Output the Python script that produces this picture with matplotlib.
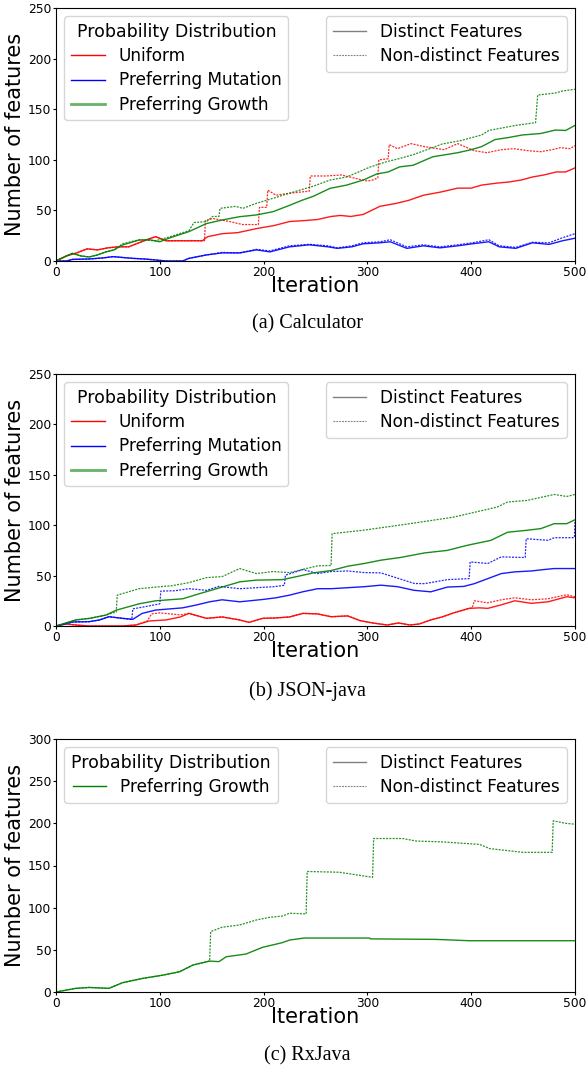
import matplotlib
matplotlib.use("Agg")
import matplotlib.pyplot as plt
from matplotlib.lines import Line2D

# ---------------- data ----------------
iter_ticks = [0, 100, 200, 300, 400, 500]
yticks_ab = [0, 50, 100, 150, 200, 250]
yticks_c = [0, 50, 100, 150, 200, 250, 300]

captions = ["(a) Calculator", "(b) JSON-java", "(c) RxJava"]
dist_labels = ["Uniform", "Preferring Mutation", "Preferring Growth"]
kind_labels = ["Distinct Features", "Non-distinct Features"]

# (a) Calculator
calc_uni_d_x = [0, 10, 20, 30, 40, 50, 60, 70, 80, 90, 96, 106, 120, 141, 146, 160, 175, 193, 210, 225, 240, 252,
                265, 274, 284, 296, 302, 312, 328, 340, 354, 370, 387, 400, 410, 425, 436, 448, 459, 470, 482, 491, 500]
calc_uni_d_y = [0, 5, 8, 12, 11, 13, 14, 14, 18, 22, 24, 20, 20, 20, 24, 27, 28, 32, 35, 39, 40, 41,
                44, 45, 44, 46, 49, 54, 57, 60, 65, 68, 72, 72, 75, 77, 78, 80, 83, 85, 88, 88, 92]
calc_uni_nd_x = [0, 10, 20, 30, 40, 50, 60, 70, 80, 90, 96, 106, 120, 143, 144, 151, 167, 180, 195, 196, 203, 204,
                 212, 225, 244, 245, 260, 275, 291, 300, 305, 310, 311, 320, 321, 329, 342, 355, 374, 387, 403, 415,
                 429, 441, 455, 467, 478, 486, 495, 500]
calc_uni_nd_y = [0, 5, 8, 12, 11, 13, 14, 14, 18, 22, 24, 20, 20, 20, 40, 42, 39, 36, 36, 53, 53, 70,
                 65, 67, 69, 84, 84, 85, 81, 79, 80, 82, 100, 101, 115, 111, 116, 113, 110, 116, 109, 107,
                 110, 111, 109, 108, 110, 112, 111, 114]
calc_mut_d_x = [0, 10, 16, 32, 45, 55, 74, 85, 96, 106, 122, 128, 145, 160, 177, 193, 206, 225, 244, 262, 271, 285,
                296, 312, 322, 338, 354, 370, 387, 401, 417, 427, 443, 459, 475, 488, 500]
calc_mut_d_y = [0, 0, 1.6, 2, 3, 4.3, 2.6, 2, 1, 0, 0, 2.6, 6, 8, 8, 11, 9, 14, 16, 14, 12.5, 14,
                17, 18, 19, 12.5, 15, 13, 15, 17, 19, 14, 12.5, 18, 16.4, 20, 22.5]
calc_mut_nd_x = calc_mut_d_x
calc_mut_nd_y = [0, 0, 1.6, 2, 3, 4.3, 2.6, 2, 1, 0, 0, 2.6, 6, 8.5, 8, 11.5, 10, 15, 16.5, 15, 13, 15,
                 18, 19, 21, 14, 16, 14, 16, 18, 21, 15, 13.5, 18.5, 18, 23, 27]
calc_grow_d_x = [0, 8, 16, 24, 32, 40, 48, 56, 64, 80, 90, 100, 110, 128, 145, 160, 177, 193, 209, 225, 237, 248,
                 264, 280, 296, 309, 320, 331, 344, 363, 375, 387, 400, 410, 423, 436, 449, 467, 481, 491, 500]
calc_grow_d_y = [0, 4, 7.6, 5, 4, 6, 9, 11, 15.8, 20.7, 21, 19, 23, 29, 37, 40.5, 43.8, 45.5, 48.7, 55, 60, 64,
                 71.8, 75, 80, 86, 88, 93, 94.6, 103, 105, 107, 110, 113, 120, 122, 124.5, 126, 129.4, 129, 134]
calc_grow_nd_x = [0, 8, 16, 24, 32, 40, 48, 56, 64, 80, 96, 110, 128, 133, 145, 151, 157, 158, 173, 180, 193, 206,
                  225, 248, 264, 280, 302, 318, 330, 344, 360, 372, 390, 410, 417, 443, 462, 464, 481, 488, 500]
calc_grow_nd_y = [0, 4, 7.6, 5, 4, 6, 9, 11, 17, 21, 20, 24, 30, 38, 39, 44, 44, 52, 54, 52, 57, 61,
                  67, 74, 80, 83, 92.6, 98, 101, 105, 111, 115.6, 119, 124.5, 129, 134, 136.7, 164, 166, 168, 169.7]

# (b) JSON-java
json_uni_d_x = [0, 10, 19, 32, 50, 64, 77, 90, 106, 120, 128, 145, 160, 177, 186, 199, 212, 225, 238, 252, 265, 281,
                293, 305, 319, 330, 341, 350, 361, 372, 383, 398, 408, 416, 429, 442, 458, 474, 492, 500]
json_uni_d_y = [0, 2, 1, 0, 0, 0, 1, 5, 6, 9, 12.5, 7.6, 9, 6, 3.6, 7.6, 8, 9, 12.5, 12, 9.2, 10,
                5.3, 3, 1, 3, 1, 2, 6, 9, 13, 17.5, 18, 17.5, 21, 25, 22.5, 24, 29, 28]
json_uni_nd_x = [0, 10, 19, 32, 50, 64, 77, 88, 92, 100, 110, 120, 128, 145, 160, 177, 186, 199, 212, 225, 238, 252,
                 265, 281, 293, 305, 319, 330, 341, 350, 361, 372, 383, 398, 401, 403, 416, 429, 442, 458, 474, 492, 500]
json_uni_nd_y = [0, 2, 1, 0, 0, 0, 1, 5, 12, 13, 12, 11, 12.5, 7.6, 9, 6, 3.6, 7.6, 8, 9, 12.5, 12,
                 9.2, 10, 5.3, 3, 1, 3, 1, 2, 6, 9, 13, 17.5, 18, 25, 23, 26, 28, 26, 27, 31, 29]
json_mut_d_x = [0, 16, 32, 42, 51, 64, 74, 83, 96, 110, 122, 135, 148, 160, 177, 199, 212, 225, 238, 252, 265, 281,
                297, 313, 329, 345, 361, 377, 393, 403, 416, 429, 442, 458, 470, 480, 500]
json_mut_d_y = [0, 4, 4.3, 6, 9.2, 7.6, 6.6, 12.5, 15.8, 17, 18, 20.8, 24, 26, 24, 26.3, 28, 30.6, 34, 37, 37, 38,
                39, 40.5, 39, 35.4, 33.9, 38.6, 39.3, 42, 47, 52, 53.7, 54.6, 56, 57, 57]
json_mut_nd_x = [0, 16, 32, 42, 51, 64, 73, 74, 85, 100, 101, 115, 128, 145, 157, 177, 193, 210, 220, 221, 238, 252,
                 265, 281, 297, 313, 325, 345, 355, 377, 398, 399, 416, 429, 448, 452, 453, 474, 480, 498, 499.5, 500]
json_mut_nd_y = [0, 4, 4.3, 6, 9.2, 7.6, 6.6, 17, 19, 22, 34.6, 35, 37, 35.4, 39.3, 37, 38, 39, 40.4, 50.4, 56, 52,
                 54, 54.6, 53, 52.7, 48.8, 42.2, 42, 46, 47, 63.6, 62, 68.6, 68, 68, 86.6, 85, 87.6, 87.6, 88, 104.6]
json_grow_d_x = [0, 19, 32, 48, 58, 80, 96, 122, 138, 160, 177, 193, 218, 231, 248, 265, 281, 297, 313, 332, 355,
                 377, 396, 419, 435, 454, 467, 480, 492, 500]
json_grow_d_y = [0, 6, 7.5, 10.8, 15.7, 22, 25, 27, 32, 38.6, 43.8, 45.5, 46, 48.8, 52.7, 55, 59.3, 62, 65.3, 68, 72.5,
                 75, 80, 85, 93, 95, 96.6, 101.5, 101.5, 105.4]
json_grow_nd_x = [0, 19, 32, 48, 58, 59, 80, 96, 112, 128, 145, 160, 177, 193, 209, 225, 252, 265, 266, 296, 341,
                  383, 425, 435, 454, 480, 492, 500]
json_grow_nd_y = [0, 6, 7.5, 10.8, 14, 30.6, 37, 38.6, 40, 43, 48, 49, 57, 52, 54, 53, 59.7, 60, 91.6, 95, 101.5,
                  108, 118, 123, 124.6, 130.5, 128.5, 130.5]

# (c) RxJava
rx_grow_d_x = [0, 19, 32, 51, 64, 83, 103, 119, 132, 148, 157, 164, 183, 199, 218, 225, 239, 302, 303, 366, 398, 500]
rx_grow_d_y = [0, 4.3, 5.4, 4.3, 11, 16, 20, 24, 32, 36.7, 36, 41.8, 45, 53, 58.5, 61.6, 64, 64, 63, 62.4, 60.8, 60.8]
rx_grow_nd_x = [0, 19, 32, 51, 64, 83, 103, 119, 132, 148, 149, 160, 177, 193, 206, 218, 225, 241, 242, 273, 289,
                305, 306, 334, 347, 372, 408, 418, 450, 478, 479, 491, 500]
rx_grow_nd_y = [0, 4.3, 5.4, 4.3, 11, 16, 20, 24, 32, 36.7, 71.6, 76.8, 79.5, 85.4, 88.6, 90, 93.4, 92.6, 142.9, 142,
                139, 136, 182, 182, 179, 178, 175, 170, 165.6, 165.6, 203, 200, 199]

# ---------------- styling ----------------
COL = {"Uniform": "#ff0000", "Preferring Mutation": "#0000ff", "Preferring Growth": "#008000"}
SOLID = dict(lw=1.0, ls="-")
DOTTED = dict(lw=0.9, ls=(0, (1.6, 1.0)))

W, H = 587, 1073
fig = plt.figure(figsize=(W / 100, H / 100), dpi=100)


def frac_rect(left, top, right, bottom):
    return [left / W, 1 - bottom / H, (right - left) / W, (bottom - top) / H]


panels = [
    dict(rect=frac_rect(56, 8, 575, 261), ymax=250, yticks=yticks_ab, cap_y=324, series=[
        ("Uniform", calc_uni_d_x, calc_uni_d_y, calc_uni_nd_x, calc_uni_nd_y),
        ("Preferring Mutation", calc_mut_d_x, calc_mut_d_y, calc_mut_nd_x, calc_mut_nd_y),
        ("Preferring Growth", calc_grow_d_x, calc_grow_d_y, calc_grow_nd_x, calc_grow_nd_y)]),
    dict(rect=frac_rect(56, 374, 575, 626), ymax=250, yticks=yticks_ab, cap_y=691, series=[
        ("Uniform", json_uni_d_x, json_uni_d_y, json_uni_nd_x, json_uni_nd_y),
        ("Preferring Mutation", json_mut_d_x, json_mut_d_y, json_mut_nd_x, json_mut_nd_y),
        ("Preferring Growth", json_grow_d_x, json_grow_d_y, json_grow_nd_x, json_grow_nd_y)]),
    dict(rect=frac_rect(56, 739, 575, 992), ymax=300, yticks=yticks_c, cap_y=1056, series=[
        ("Preferring Growth", rx_grow_d_x, rx_grow_d_y, rx_grow_nd_x, rx_grow_nd_y)]),
]

for i, p in enumerate(panels):
    ax = fig.add_axes(p["rect"])
    for name, xd, yd, xn, yn in p["series"]:
        ax.plot(xn, yn, color=COL[name], alpha=0.85, **DOTTED)
        ax.plot(xd, yd, color=COL[name], alpha=0.9, **SOLID)
    ax.set_xlim(0, 500)
    ax.set_ylim(0, p["ymax"])
    ax.set_xticks(iter_ticks)
    ax.set_yticks(p["yticks"])
    ax.tick_params(labelsize=8.8, length=2, pad=1.5, width=0.8)
    ax.set_xlabel("Iteration", fontsize=15)
    ax.set_ylabel("Number of features", fontsize=15)
    ax.xaxis.label.set_va("center")
    ax.yaxis.label.set_va("center")
    ax.xaxis.set_label_coords(0.5, -0.099)
    ax.yaxis.set_label_coords(-0.079, 0.5)

    names = [s[0] for s in p["series"]]
    handles = []
    for name in names:
        if name == "Preferring Growth" and len(names) > 1:
            handles.append(Line2D([], [], color=COL[name], lw=2.0, alpha=0.6))
        else:
            handles.append(Line2D([], [], color=COL[name], lw=1.0))
    leg1 = ax.legend(handles, names, title="Probability Distribution", loc="upper left",
                     fontsize=12.2, title_fontsize=12.5, labelspacing=0.36)
    ax.add_artist(leg1)
    kh = [Line2D([], [], color="gray", lw=1.0, ls="-"),
          Line2D([], [], color="gray", lw=0.8, ls=(0, (1.6, 1.0)))]
    ax.legend(kh, kind_labels, loc="upper right", fontsize=12.2, labelspacing=0.36)

    fig.text(307 / W, 1 - p["cap_y"] / H, captions[i], ha="center", va="center",
             family="Liberation Serif", fontsize=14.5)

fig.savefig("out.png", dpi=100)
